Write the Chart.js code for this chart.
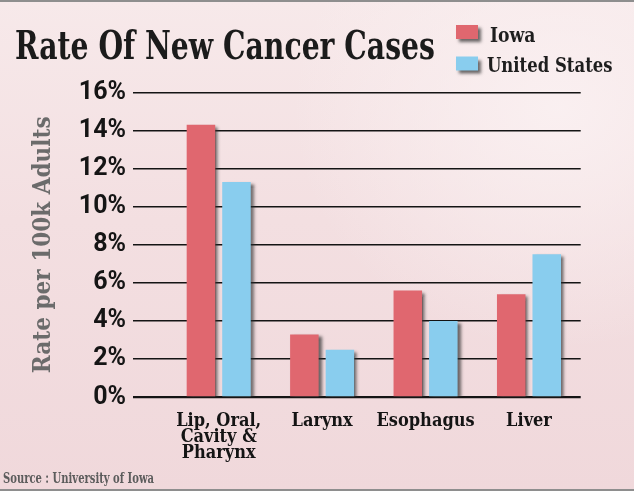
<!DOCTYPE html>
<html>
<head>
<meta charset="utf-8">
<script src="https://cdn.jsdelivr.net/npm/chart.js@4.4.1/dist/chart.umd.min.js"></script>
<style>
  html, body { margin: 0; padding: 0; }
  #wrap {
    position: relative; width: 634px; height: 491px; overflow: hidden;
    background:
      radial-gradient(ellipse 60% 70% at 88% 22%, rgba(250,240,241,0.95), rgba(250,240,241,0) 70%),
      linear-gradient(to bottom, #f7e9ea 0%, #f3dfe1 45%, #f0d8db 100%);
  }
  #wrap canvas { position: absolute; left: 0; top: 0; }
  .bline { position: absolute; left: 0; width: 634px; height: 2px; background: #8e8e8e; z-index: 2; }
</style>
</head>
<body>
<div id="wrap">
  <canvas id="c" width="634" height="491"></canvas>
  <div class="bline" style="top:0"></div>
  <div class="bline" style="top:489px"></div>
</div>
<script>
const chartTitle = "Rate Of New Cancer Cases";
const sourceText = "Source : University of Iowa";
const yAxisTitle = "Rate per 100k Adults";
const categories = [["Lip, Oral,", "Cavity &", "Pharynx"], "Larynx", "Esophagus", "Liver"];
const seriesNames = ["Iowa", "United States"];
const iowaValues = [14.3, 3.3, 5.6, 5.4];
const usValues = [11.3, 2.5, 4.0, 7.5];
const yTickMin = 0, yTickMax = 16, yTickStep = 2;

const SLAB = '"DejaVu Serif Condensed", "DejaVu Serif", serif';
const SANS = 'Roboto, "Liberation Sans", sans-serif';

function drawFitted(ctx, text, x, baseline, targetW, font, color) {
  ctx.save();
  ctx.font = font;
  const w = ctx.measureText(text).width;
  ctx.translate(x, baseline);
  ctx.scale(targetW / w, 1);
  ctx.fillStyle = color;
  ctx.textBaseline = 'alphabetic';
  ctx.textAlign = 'left';
  ctx.fillText(text, 0, 0);
  ctx.restore();
}

const decorPlugin = {
  id: 'decor',
  beforeDatasetsDraw(chart) {
    const ctx = chart.ctx;
    ctx.save();
    ctx.shadowColor = 'rgba(45,45,45,0.7)';
    ctx.shadowOffsetX = 3;
    ctx.shadowOffsetY = 2;
    ctx.shadowBlur = 3;
  },
  afterDatasetsDraw(chart) {
    chart.ctx.restore();
  },
  afterDraw(chart) {
    const ctx = chart.ctx;
    drawFitted(ctx, chartTitle, 15, 58.6, 420, 'bold 39px ' + SLAB, '#1b1b1b');
    const ds = chart.data.datasets;
    const legendRows = [
      { y: 25, base: 42, tx: 490, tw: 45.5 },
      { y: 56.5, base: 71.6, tx: 487, tw: 125.5 }
    ];
    legendRows.forEach((r, i) => {
      ctx.save();
      ctx.shadowColor = 'rgba(45,45,45,0.7)';
      ctx.shadowOffsetX = 3;
      ctx.shadowOffsetY = 3;
      ctx.shadowBlur = 3;
      ctx.fillStyle = ds[i].backgroundColor;
      ctx.fillRect(456, r.y, 22, 14);
      ctx.restore();
      drawFitted(ctx, ds[i].label, r.tx, r.base, r.tw, 'bold 21px ' + SLAB, '#1e1e1e');
    });
    drawFitted(ctx, sourceText, 3, 482.7, 151, 'bold 14.5px ' + SLAB, '#5c5c5c');
  }
};

new Chart(document.getElementById('c'), {
  type: 'bar',
  data: {
    labels: categories,
    datasets: [
      { label: seriesNames[0], data: iowaValues, backgroundColor: '#e0676f', borderWidth: 0 },
      { label: seriesNames[1], data: usValues, backgroundColor: '#89cdee', borderWidth: 0 }
    ]
  },
  options: {
    responsive: false,
    devicePixelRatio: 1,
    animation: false,
    categoryPercentage: 0.687,
    barPercentage: 0.803,
    layout: { padding: { top: 92.3, right: 53.3, bottom: 0, left: 0 } },
    plugins: {
      legend: { display: false },
      title: { display: false },
      tooltip: { enabled: false }
    },
    scales: {
      x: {
        grid: { display: false, drawTicks: false },
        border: { display: false },
        ticks: {
          color: '#141414',
          padding: 16,
          font: { family: SLAB, size: 18, weight: 'bold', lineHeight: 0.9 },
          maxRotation: 0, autoSkip: false
        },
        afterFit(s) { s.height = 93.7; }
      },
      y: {
        min: yTickMin, max: yTickMax,
        grid: {
          color: '#141414',
          lineWidth: (c) => (c.tick && c.tick.value === 0) ? 2.2 : 1.4,
          drawTicks: true,
          tickLength: 34
        },
        border: { display: false },
        ticks: {
          stepSize: yTickStep,
          color: '#151515',
          padding: 7,
          font: { family: SANS, size: 25, weight: 'bold' },
          callback: (v) => v + '%'
        },
        title: {
          display: true,
          text: yAxisTitle,
          color: '#6b6b6b',
          font: { family: SLAB, size: 24, weight: 'bold', lineHeight: 1.2 },
          padding: { top: 29, bottom: 0 }
        },
        afterFit(s) { s.width = 167; }
      }
    }
  },
  plugins: [decorPlugin]
});
</script>
</body>
</html>
